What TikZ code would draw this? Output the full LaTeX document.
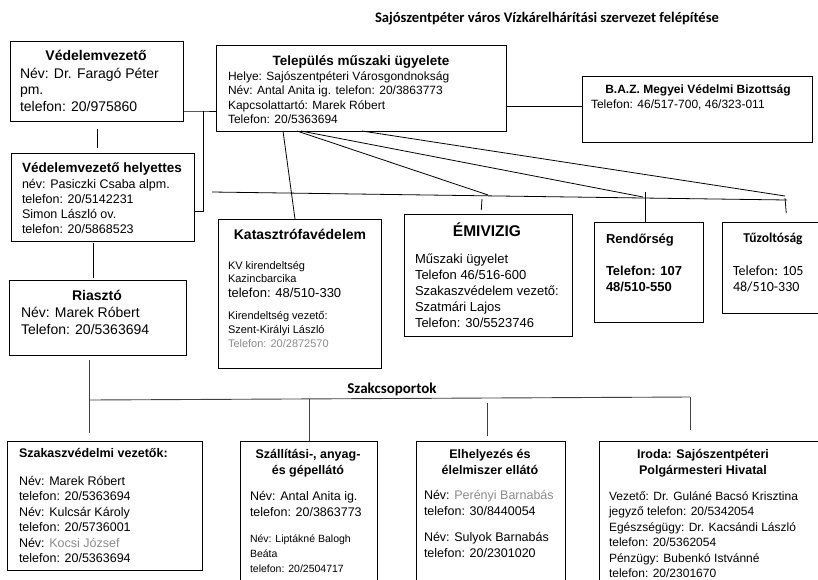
\documentclass[tikz,border=0pt]{standalone}
\usepackage{fontspec}
\setmainfont{Liberation Sans}
\newfontfamily\calfont{Carlito}
\usetikzlibrary{fit,calc}
\definecolor{fadegray}{HTML}{8C8C8C}
\newcommand\fsz[2]{\fontsize{#1}{#2}\selectfont}
\newcommand\leftlines[1]{\parbox[t]{300pt}{\raggedright #1}}
\newcommand\midlines[1]{\parbox[t]{240pt}{\centering #1}}

\begin{document}
\begin{tikzpicture}[x=1pt,y=-1pt,
  frame/.style={draw=black, line width=1pt, inner sep=0pt, outer sep=0pt},
  wire/.style={draw=black, line width=0.8pt},
  lowwire/.style={draw=black!75, line width=0.9pt},
  txt/.style={inner sep=0pt, outer sep=0pt, anchor=base west},
  ttl/.style={inner sep=0pt, outer sep=0pt, anchor=base}]

\useasboundingbox (0,0) rectangle (818,579);
\clip (0,0) rectangle (818,579);
\fill[white] (0,0) rectangle (818,579);

% heading
\node[ttl, font=\calfont\bfseries\fsz{14.6}{17}] (title) at (547,22)
  {Sajószentpéter város Vízkárelhárítási szervezet felépítése};

% head of defence
\node[frame, fit={(10,41) (183,121)}] (vv) {};
\node[ttl, font=\bfseries\fsz{14}{17}] (vvT) at (96,60) {Védelemvezető};
\node[txt, font=\fsz{14}{16.5}] (vvB) at (20,78)
  {\leftlines{Név: Dr. Faragó Péter\\pm.\\telefon: 20/975860}};

% technical duty
\node[frame, fit={(216,45) (506,131)}] (tel) {};
\node[ttl, font=\bfseries\fsz{13.5}{16}] (telT) at (361,65) {Település műszaki ügyelete};
\node[txt, font=\fsz{12}{14.5}] (telB) at (228,80)
  {\leftlines{Helye: Sajószentpéteri Városgondnokság\\Név: Antal Anita ig. telefon: 20/3863773\\Kapcsolattartó: Marek Róbert\\Telefon: 20/5363694}};

% county committee
\node[frame, fit={(582,76) (812,142)}] (baz) {};
\node[ttl, font=\bfseries\fsz{12}{14}] (bazT) at (698,93) {B.A.Z. Megyei Védelmi Bizottság};
\node[txt, font=\fsz{12}{14}] (bazB) at (591,108) {Telefon: 46/517-700, 46/323-011};

% deputy
\node[frame, fit={(11,153) (194,241)}] (vh) {};
\node[txt, font=\bfseries\fsz{13.5}{15}] (vhT) at (22,172) {Védelemvezető helyettes};
\node[txt, font=\fsz{12.5}{15}] (vhB) at (22,188)
  {\leftlines{név: Pasiczki Csaba alpm.\\telefon: 20/5142231\\Simon László ov.\\telefon: 20/5868523}};

% disaster management
\node[frame, fit={(218,219) (381,368)}] (kat) {};
\node[ttl, font=\bfseries\fsz{14}{16}] (katT) at (300,239) {Katasztrófavédelem};
\node[txt, font=\fsz{11}{13}] (katA) at (228,269) {\leftlines{KV kirendeltség\\Kazincbarcika}};
\node[txt, font=\fsz{13}{15}] (katB) at (228,297) {telefon: 48/510-330};
\node[txt, font=\fsz{11}{14}] (katC) at (228,319)
  {\leftlines{Kirendeltség vezető:\\Szent-Királyi László\\\textcolor{fadegray}{Telefon: 20/2872570}}};

% water authority
\node[frame, fit={(404,214) (572,336)}] (emi) {};
\node[ttl, font=\bfseries\fsz{15.5}{18}] (emiT) at (487,236) {ÉMIVIZIG};
\node[txt, font=\fsz{13}{16}] (emiB) at (415,263)
  {\leftlines{Műszaki ügyelet\\Telefon 46/516-600\\Szakaszvédelem vezető:\\Szatmári Lajos\\Telefon: 30/5523746}};

% police
\node[frame, fit={(594,222) (703,322)}] (rend) {};
\node[txt, font=\bfseries\fsz{13}{16}] (rendT) at (606,243) {Rendőrség};
\node[txt, font=\bfseries\fsz{13}{16}] (rendB) at (606,275) {\leftlines{Telefon: 107\\48/510-550}};

% fire brigade
\node[frame, fit={(722,222) (830,313)}] (tuz) {};
\node[ttl, font=\calfont\bfseries\fsz{13.5}{16}] (tuzT) at (773,242) {Tűzoltóság};
\node[txt, font=\calfont\fsz{14}{16}] (tuzB) at (733,275) {\leftlines{Telefon: 105\\48/510-330}};

% alarm
\node[frame, fit={(9,280) (186,355)}] (ria) {};
\node[ttl, font=\bfseries\fsz{14}{17}] (riaT) at (97,300) {Riasztó};
\node[txt, font=\fsz{14}{17}] (riaB) at (21,317) {\leftlines{Név: Marek Róbert\\Telefon: 20/5363694}};

% specialist groups
\node[ttl, font=\calfont\bfseries\fsz{15}{17}] (szakT) at (392,393) {Szakcsoportok};

\node[frame, fit={(7,441) (202,570)}] (szv) {};
\node[txt, font=\bfseries\fsz{12.5}{15}] (szvT) at (19,457) {Szakaszvédelmi vezetők:};
\node[txt, font=\fsz{12.5}{15.5}] (szvB) at (19,485)
  {\leftlines{Név: Marek Róbert\\telefon: 20/5363694\\Név: Kulcsár Károly\\telefon: 20/5736001\\Név: \textcolor{fadegray}{Kocsi József}\\telefon: 20/5363694}};

\node[frame, fit={(240,441) (377,600)}] (szal) {};
\node[ttl, font=\bfseries\fsz{12.5}{16}] (szalT) at (308,458) {\midlines{Szállítási-, anyag-\\és gépellátó}};
\node[txt, font=\fsz{12.5}{16}] (szalB) at (250,500) {\leftlines{Név: Antal Anita ig.\\telefon: 20/3863773}};
\node[txt, font=\fsz{10.5}{15}] (szalC) at (250,542) {\leftlines{Név: Liptákné Balogh\\Beáta\\telefon: 20/2504717}};

\node[frame, fit={(416,441) (565,600)}] (elh) {};
\node[ttl, font=\bfseries\fsz{12.5}{16}] (elhT) at (490,458) {\midlines{Elhelyezés és\\élelmiszer ellátó}};
\node[txt, font=\fsz{12.5}{16}] (elhB) at (424,499)
  {\leftlines{Név: \textcolor{fadegray}{Perényi Barnabás}\\telefon: 30/8440054\\[10pt]Név: Sulyok Barnabás\\telefon: 20/2301020}};

\node[frame, fit={(599,441) (830,600)}] (iro) {};
\node[ttl, font=\bfseries\fsz{12.5}{16}] (iroT) at (703,458) {\midlines{Iroda: Sajószentpéteri\\Polgármesteri Hivatal}};
\node[txt, font=\fsz{12}{15.5}] (iroB) at (609,500)
  {\leftlines{Vezető: Dr. Guláné Bacsó Krisztina\\jegyző telefon: 20/5342054\\Egészségügy: Dr. Kacsándi László\\telefon: 20/5362054\\Pénzügy: Bubenkó Istvánné\\telefon: 20/2301670}};

% ---- connectors: left column
\coordinate (c97) at (97,0);
\coordinate (c93) at (93,0);
\draw[wire, shorten <=8pt, shorten >=5pt] (vv.south -| c97) -- (vh.north -| c97);
\draw[wire, shorten <=2pt, shorten >=2pt] (vh.south -| c93) -- (ria.north -| c93);
\coordinate (j1) at (203,111);
\coordinate (j2) at (203,211);
\draw[wire] (vv.east |- j1) -- (j1) -- (tel.west |- j1);
\draw[wire] (j1) -- (j2) -- (vh.east |- j2);
\coordinate (bzy) at (0,106);
\draw[wire] (tel.east |- bzy) -- (baz.west |- bzy);

% ---- connectors: fan to the services
\coordinate (t1) at ($(tel.south west)+(67,0)$);
\coordinate (t2) at ($(tel.south west)+(81,0)$);
\coordinate (t3) at ($(tel.south west)+(85,0)$);
\coordinate (t4) at ($(tel.south west)+(146,0)$);
\coordinate (hL) at (212,192);
\coordinate (hR) at (787,200);
\coordinate (e1) at (488,195);
\coordinate (e2) at (643,197);
\coordinate (e3) at (785,196);
\draw[wire] (hL) -- (hR);
\draw[wire] (t1) -- ($(kat.north west)+(77,0)$);
\draw[wire] (t2) -- (e1);
\draw[wire] (t3) -- (e2);
\draw[wire] (t4) -- (e3);
\coordinate (k1) at (482,199);
\coordinate (k1b) at (481,0);
\draw[wire, shorten >=4pt] (k1) -- (emi.north -| k1b);
\coordinate (k2) at (645,192);
\draw[wire] (k2) -- (rend.north -| k2);
\coordinate (k3) at (785,198);
\coordinate (k3b) at (787,0);
\draw[wire, shorten >=9pt] (k3) -- (tuz.north -| k3b);

% ---- connectors: specialist groups
\coordinate (c89) at (89,0);
\coordinate (bL) at (89,400);
\coordinate (bR) at (690,397);
\draw[lowwire, shorten <=5pt, shorten >=8pt] (ria.south -| c89) -- (szv.north -| c89);
\draw[lowwire] (bL) -- (bR);
\coordinate (d2) at (309,399);
\draw[lowwire] (d2) -- (szal.north -| d2);
\coordinate (d3) at (487,403);
\draw[lowwire, shorten >=5pt] (d3) -- (elh.north -| d3);
\draw[lowwire, shorten >=11pt] (bR) -- (iro.north -| bR);
\end{tikzpicture}
\end{document}
